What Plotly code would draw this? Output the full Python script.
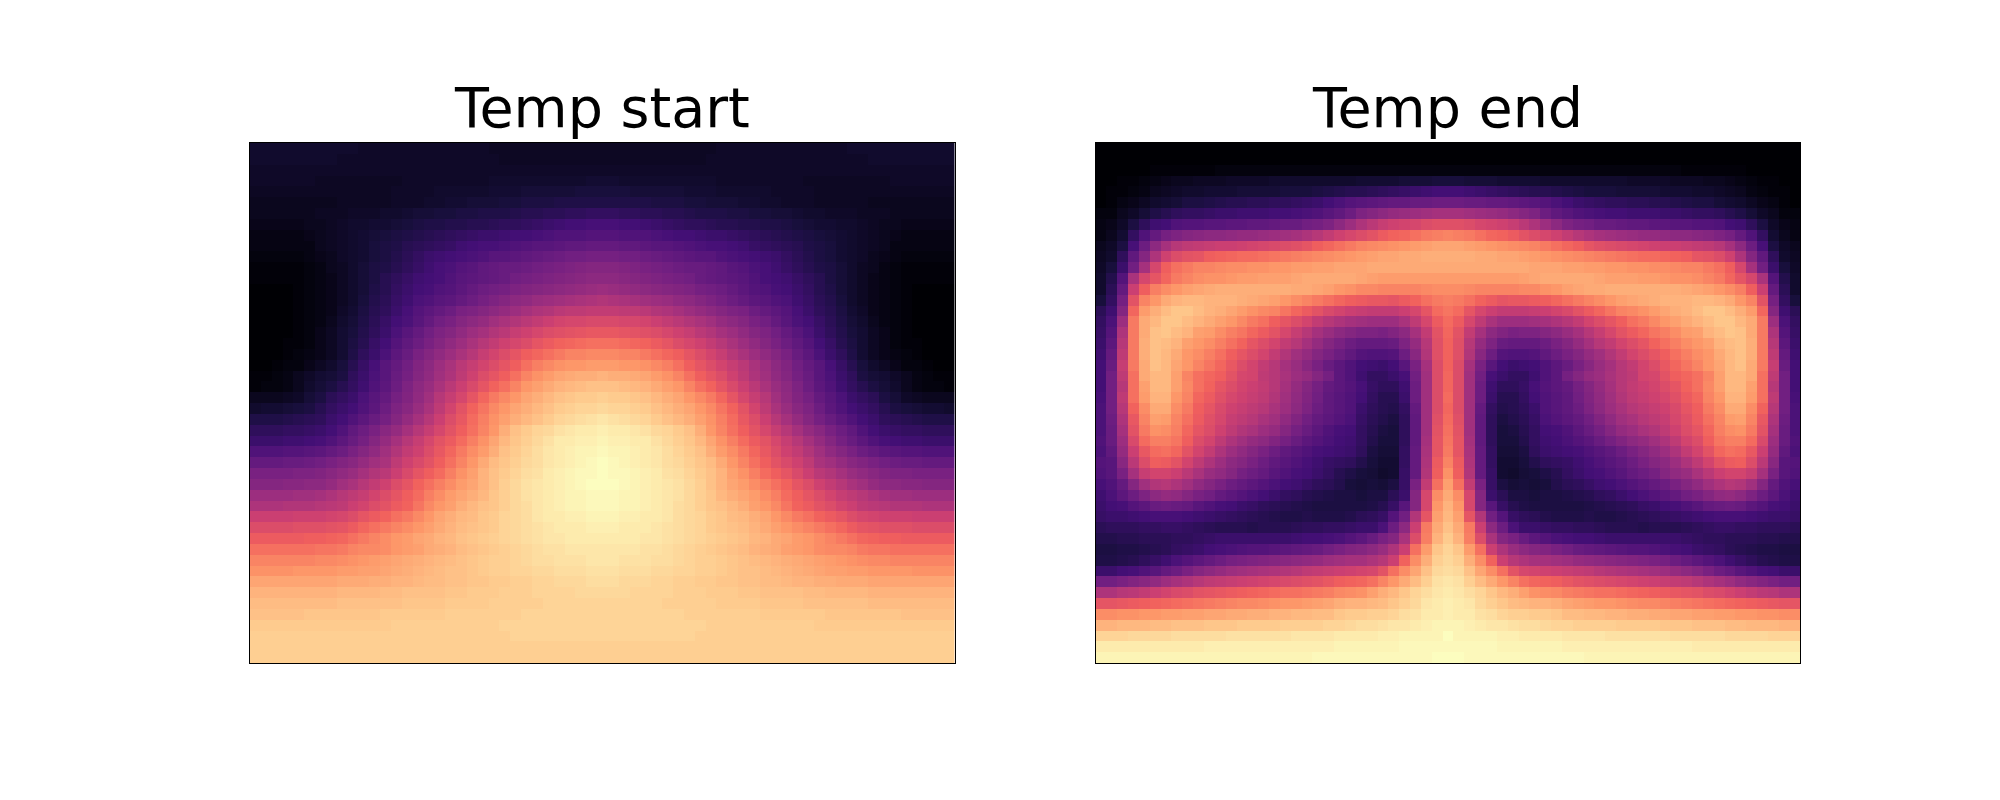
import plotly.graph_objects as go

titles = ["Temp start", "Temp end"]

# Left half of each field (column 0 to the centre column); the pictures are mirror-symmetric.
temp_start_half = [
[8,8,8,8,8,8,8,8,8,8,7,7,7,7,7,7,7,7,7,7,7,7,6,6,6,6,6,6,6,6,6,6,6],
[8,8,8,8,8,8,8,8,7,7,7,7,7,7,7,7,7,7,7,7,7,7,7,6,6,6,6,6,6,6,6,6,6],
[7,7,7,7,7,7,7,7,7,7,7,7,7,7,7,7,7,7,7,7,7,7,7,7,7,7,7,7,7,7,7,7,7],
[7,7,7,7,7,7,6,6,6,6,6,6,6,6,7,7,7,7,7,7,7,7,8,8,8,8,8,8,8,8,8,9,9],
[6,6,6,6,6,6,6,6,6,6,6,6,6,7,7,7,7,8,8,8,8,8,9,9,9,10,10,10,10,10,11,11,11],
[5,5,5,5,5,5,5,5,6,6,6,6,6,7,7,7,8,8,9,9,10,10,10,11,11,12,12,12,13,13,13,13,13],
[5,5,5,5,5,5,6,6,6,7,7,7,8,8,9,10,10,11,11,12,12,13,13,13,14,15,15,16,16,17,17,18,18],
[4,4,4,4,4,5,5,6,7,8,8,9,9,10,11,12,13,13,14,14,15,15,16,17,17,18,19,20,21,22,22,23,23],
[3,3,3,3,3,4,5,6,7,8,9,10,11,12,13,14,15,16,17,18,19,20,20,21,22,22,23,24,25,25,25,26,26],
[3,3,3,3,3,3,5,6,7,8,9,11,12,13,15,16,17,18,19,21,22,23,23,24,25,26,27,27,28,29,29,30,30],
[2,2,2,2,2,3,4,5,7,8,9,11,12,14,16,18,20,21,22,23,24,25,27,27,28,29,30,31,32,33,33,34,34],
[1,1,1,1,1,2,3,5,6,8,10,12,13,15,17,19,21,23,24,26,27,29,30,31,31,32,33,34,35,36,37,38,38],
[1,1,1,1,1,2,3,4,6,8,10,12,15,17,19,21,22,23,25,27,28,29,30,31,33,34,35,36,37,38,39,40,40],
[0,0,0,0,1,2,3,4,6,8,10,13,15,18,20,22,23,25,26,28,30,32,33,34,36,37,38,39,40,41,42,43,44],
[0,0,0,0,1,2,3,4,6,8,11,14,16,19,21,24,25,27,28,30,32,34,36,38,40,41,43,44,45,46,47,48,49],
[0,0,0,0,1,2,3,4,7,9,12,15,17,20,23,26,28,30,32,35,36,38,40,42,44,46,48,49,51,52,52,53,53],
[0,0,0,0,1,2,3,5,8,10,13,16,19,22,24,27,30,33,35,38,40,42,45,47,49,51,53,55,57,58,58,59,59],
[0,0,0,0,1,2,4,6,9,11,14,17,20,24,27,30,33,36,38,41,44,46,49,51,54,56,58,60,61,62,63,64,64],
[0,0,0,1,1,2,4,6,9,12,15,19,22,26,29,32,35,38,41,44,47,50,53,56,58,60,63,65,67,68,69,70,70],
[0,0,0,1,2,3,4,6,9,13,17,20,24,28,31,35,38,41,44,47,50,54,57,60,63,66,68,70,72,74,74,75,75],
[0,0,1,2,2,4,6,8,11,15,19,23,27,30,33,37,40,44,47,51,54,57,60,63,66,70,73,75,77,78,78,79,79],
[1,1,2,3,5,7,9,10,12,17,20,24,27,31,34,38,41,45,48,52,56,60,63,66,70,74,77,79,81,82,83,83,84],
[1,2,2,3,5,8,10,12,15,18,21,25,28,32,36,40,43,47,51,55,59,63,67,70,74,78,80,82,84,85,86,87,87],
[5,5,5,6,7,10,12,16,18,20,24,27,30,34,37,41,45,50,54,58,63,68,72,75,78,81,83,85,87,88,89,89,90],
[8,9,9,10,11,12,15,18,20,22,25,28,32,36,39,43,47,52,57,62,67,71,75,78,81,83,85,87,89,90,91,91,92],
[13,13,13,14,15,16,17,20,22,25,28,31,34,38,42,46,50,55,60,64,69,73,77,80,83,85,87,89,91,92,93,94,95],
[17,17,17,18,18,19,20,22,25,29,32,35,39,42,46,50,54,58,62,66,70,74,78,83,87,89,91,92,94,95,96,96,97],
[20,20,20,21,21,22,23,25,28,31,34,38,42,46,50,54,58,62,65,69,73,77,81,85,88,90,92,94,96,96,97,97,98],
[25,25,25,26,26,27,28,30,32,35,38,41,45,49,53,56,60,64,68,72,76,79,83,87,89,91,93,95,96,97,98,98,99],
[30,30,30,31,31,32,33,35,37,39,42,45,47,52,56,59,62,66,70,74,78,82,86,88,90,92,93,95,96,97,98,99,100],
[35,35,35,35,36,36,37,39,41,43,46,49,51,55,59,63,66,69,73,77,80,84,87,89,91,93,94,96,97,98,99,99,100],
[38,38,38,39,39,40,40,42,45,47,50,53,56,60,63,67,70,73,76,79,81,84,87,90,92,94,95,96,97,98,99,100,100],
[44,44,44,44,45,45,46,48,50,52,54,57,60,63,66,69,73,76,79,81,83,85,88,90,92,94,95,96,97,98,98,99,99],
[48,48,48,49,49,49,50,51,52,55,57,60,62,65,67,71,75,78,80,83,85,87,88,90,92,93,95,96,97,98,98,99,99],
[55,55,55,55,56,56,56,57,58,60,63,65,67,70,72,75,78,81,83,85,86,88,89,91,92,93,95,96,96,97,97,98,98],
[60,60,60,60,61,61,61,62,63,65,68,70,72,74,76,78,80,82,84,86,87,88,89,91,92,93,94,95,96,96,96,97,97],
[65,65,65,65,65,66,66,67,68,70,72,74,76,78,79,81,82,84,85,87,88,89,90,91,92,93,94,95,95,96,96,96,96],
[70,70,70,70,70,70,71,71,72,74,75,75,76,78,79,80,82,83,84,86,87,88,89,90,91,92,93,94,94,95,95,95,95],
[74,74,74,74,74,74,75,75,76,77,78,79,80,81,82,83,84,85,86,87,88,89,90,90,91,92,93,93,94,94,94,95,95],
[77,77,77,77,78,78,78,78,79,79,80,80,81,82,83,84,85,86,87,87,88,89,90,90,91,91,92,92,93,93,93,94,94],
[81,81,81,81,81,81,81,81,82,82,82,83,83,84,84,85,86,86,87,87,88,88,89,89,90,90,91,91,92,92,92,93,93],
[84,84,84,84,84,84,84,84,85,85,85,85,86,86,87,87,87,87,88,88,89,89,89,90,90,90,91,91,91,91,92,92,92],
[86,86,86,86,86,86,86,86,87,87,87,87,87,87,88,88,88,88,89,89,89,89,90,90,90,90,90,91,91,91,91,91,91],
[87,87,87,87,87,88,88,88,88,88,88,88,89,89,89,89,89,89,90,90,90,90,90,90,90,91,91,91,91,91,91,91,91],
[89,89,89,89,89,89,89,89,89,89,89,89,89,90,90,90,90,90,90,90,90,90,90,91,91,91,91,91,91,91,91,91,91],
[90,90,90,90,90,90,90,90,90,90,90,90,90,90,90,90,90,90,90,90,90,90,90,90,91,91,91,91,91,91,91,91,91],
[90,90,90,90,90,90,90,90,90,90,90,90,90,90,90,90,90,90,90,90,90,90,90,90,90,90,90,90,90,90,90,90,90],
[90,90,90,90,90,90,90,90,90,90,90,90,90,90,90,90,90,90,90,90,90,90,90,90,90,90,90,90,90,90,90,90,90],
]

temp_end_half = [
[0,0,0,0,0,0,0,0,0,0,0,0,0,0,0,0,0,0,0,0,0,0,0,0,0,0,0,0,0,0,0,0,0],
[0,0,0,0,0,0,0,0,0,0,0,0,0,0,0,0,0,0,0,0,0,0,0,0,0,0,0,0,0,0,0,0,0],
[0,0,0,0,0,1,1,1,1,1,1,2,2,2,2,2,2,2,2,2,2,2,2,2,2,2,2,2,2,2,2,2,2],
[0,0,1,1,2,3,4,5,5,6,6,6,7,7,7,7,8,8,8,8,8,8,8,8,9,9,9,9,10,10,10,11,11],
[0,1,1,2,3,5,6,7,8,8,9,9,9,10,10,10,10,11,11,11,12,13,14,15,15,16,17,18,19,20,21,22,22],
[0,1,3,4,6,8,9,10,12,12,13,14,15,15,16,16,17,17,18,19,20,22,24,26,27,28,29,30,30,31,31,32,32],
[2,2,5,7,10,13,15,17,18,18,19,20,20,21,21,21,22,22,23,24,25,27,29,32,36,38,40,42,43,44,45,46,46],
[3,4,7,12,17,21,22,25,26,26,27,27,28,28,29,29,30,31,31,33,34,36,40,44,48,51,54,56,57,58,60,61,61],
[3,5,9,18,25,30,34,36,38,39,40,40,41,42,42,43,44,45,46,48,50,53,56,58,60,62,65,67,68,70,72,73,74],
[5,7,12,23,32,40,46,50,52,53,54,55,55,56,57,58,59,60,61,63,66,68,70,72,74,75,76,77,78,79,80,81,81],
[6,8,17,29,38,48,56,60,62,63,66,67,68,69,69,70,71,72,73,74,75,76,77,78,79,80,81,81,82,82,83,83,83],
[7,11,20,33,46,58,66,70,72,74,74,75,76,76,77,77,78,78,79,79,80,80,81,81,81,82,82,82,82,82,82,82,82],
[8,14,26,47,58,63,68,72,74,76,77,77,78,79,79,80,80,80,81,82,82,82,82,82,81,80,79,79,79,79,79,79,79],
[8,16,30,55,66,73,76,78,80,81,82,83,83,83,83,83,83,83,82,82,81,80,78,77,75,75,74,74,74,74,75,76,76],
[11,18,34,62,74,78,82,84,85,85,84,84,84,83,82,81,80,78,76,74,72,70,68,66,65,64,64,63,65,67,70,72,73],
[16,21,38,68,79,83,86,88,88,86,84,83,81,79,77,75,74,71,68,65,62,59,57,55,54,53,53,53,55,58,63,69,71],
[18,24,44,72,82,85,88,88,86,84,82,80,78,75,72,70,66,63,60,57,53,50,48,46,45,44,44,44,47,52,58,65,69],
[19,26,48,72,82,87,88,86,84,80,79,76,73,71,68,65,62,58,54,50,46,43,40,38,36,36,35,37,40,46,53,62,68],
[20,28,50,72,83,87,86,84,80,78,76,73,70,67,63,60,57,53,50,46,42,38,35,32,30,30,30,31,36,42,50,61,67],
[21,30,52,72,83,87,85,82,78,76,73,70,66,63,60,57,53,49,45,42,38,35,32,29,26,25,25,26,32,39,49,61,67],
[22,31,54,72,82,87,85,81,78,74,71,68,64,60,57,53,50,46,43,39,35,31,28,25,22,21,20,22,27,35,46,60,67],
[22,33,52,70,82,85,85,80,74,70,68,66,62,58,57,52,50,47,44,42,38,34,28,25,21,18,18,20,23,33,45,60,68],
[22,33,50,70,80,85,85,80,75,70,67,63,60,57,55,53,50,46,42,38,34,30,28,26,23,19,17,17,21,32,45,60,68],
[23,33,52,70,79,84,84,78,74,68,65,61,58,56,54,52,49,45,41,37,33,29,27,25,22,18,15,15,20,32,45,60,69],
[24,33,50,67,76,82,82,76,72,66,63,59,56,54,52,50,47,44,40,36,32,29,27,25,20,17,15,14,18,30,45,60,68],
[24,32,48,64,74,80,79,74,70,65,61,58,54,52,50,47,45,41,37,33,30,28,26,24,19,16,14,12,17,29,45,61,69],
[24,31,46,62,72,77,76,73,68,63,60,56,52,49,47,44,42,38,34,31,28,25,23,22,18,15,12,11,17,29,45,62,70],
[25,31,44,59,69,73,73,71,66,60,57,52,48,45,42,40,37,34,31,28,26,24,22,21,18,14,11,11,17,29,46,63,71],
[24,29,42,55,64,69,70,68,62,57,53,48,44,41,38,35,32,29,27,25,23,22,21,20,17,12,10,10,18,30,47,63,72],
[26,27,39,51,60,66,65,62,57,52,48,44,40,38,35,32,29,27,25,23,21,19,18,17,14,11,9,9,18,30,48,65,74],
[25,27,35,46,54,57,57,55,51,47,43,41,38,34,32,30,27,25,23,22,20,18,15,13,11,10,8,9,19,30,49,66,77],
[23,25,30,38,45,49,50,48,45,41,38,35,32,30,28,26,24,22,21,19,17,16,14,11,10,11,10,12,19,35,53,70,80],
[21,24,28,32,36,40,42,41,38,35,33,30,28,26,24,22,20,18,17,15,14,13,12,12,11,12,12,16,20,38,58,76,82],
[20,22,23,26,28,31,32,31,30,27,25,23,22,20,19,17,16,15,14,13,12,12,12,12,12,13,15,19,27,38,58,78,84],
[19,20,20,21,22,23,23,23,22,21,20,19,18,17,16,15,14,13,13,14,13,13,13,14,16,17,19,26,33,49,63,80,85],
[16,17,17,17,18,18,19,19,18,17,16,15,15,15,14,15,15,15,16,17,17,18,18,19,20,20,24,32,40,55,72,82,87],
[14,14,15,15,16,16,16,17,17,18,19,20,20,20,20,20,20,20,21,22,22,23,24,26,28,31,35,38,47,60,73,84,89],
[12,12,13,13,14,15,16,18,19,20,22,23,24,25,26,26,27,28,29,30,31,33,35,37,38,40,43,48,55,70,79,88,91],
[13,13,14,15,17,19,21,24,26,28,30,32,34,35,36,37,38,39,40,41,42,44,45,46,46,48,50,55,67,76,83,90,92],
[20,20,22,23,25,27,30,32,35,38,40,42,44,45,46,47,48,49,50,52,53,54,55,56,57,58,62,70,76,81,87,92,93],
[33,33,35,37,39,41,44,46,48,50,52,53,54,55,56,57,58,59,60,61,62,64,66,67,68,70,74,78,82,86,90,94,95],
[48,48,50,51,53,55,57,59,60,62,63,64,65,66,67,68,69,70,70,71,72,73,75,76,77,80,83,85,88,91,93,95,96],
[63,63,64,65,66,67,68,69,70,71,72,73,74,75,75,76,77,78,78,79,80,81,83,84,84,85,86,88,90,92,95,96,97],
[76,76,77,77,78,78,79,79,80,80,81,81,82,82,83,83,84,84,85,85,86,86,88,89,89,90,90,91,93,94,96,96,97],
[84,84,85,85,85,86,86,87,87,87,88,88,88,89,89,89,89,90,90,90,90,91,91,92,93,93,94,95,95,96,97,98,98],
[91,91,91,92,92,92,92,93,93,93,93,93,94,94,94,94,94,94,95,95,95,95,96,96,96,96,97,97,98,98,98,98,100],
[96,96,96,96,96,96,96,96,96,96,97,97,97,97,97,97,97,97,97,97,97,97,98,98,98,98,98,98,99,99,99,99,99],
[98,98,98,98,98,98,98,98,98,98,98,98,98,98,98,98,98,98,98,98,99,99,99,99,99,99,99,99,99,99,99,100,100],
]

for name, half in (("start", temp_start_half), ("end", temp_end_half)):
    bad = [(i, len(r)) for i, r in enumerate(half) if len(r) != 33]
    if bad or len(half) != 48:
        raise SystemExit(f"{name}: rows={len(half)} bad={bad}")


def full_field(half):
    return [[v / 100 for v in row + row[-2::-1]] for row in half]


W, H = 2000, 800
panels = [(250.0, 954.5), (1095.5, 1800.0)]
top, bottom = 143.0, 663.0

fig = go.Figure()
layout = dict(
    width=W, height=H, margin=dict(l=0, r=0, t=0, b=0),
    paper_bgcolor="white", plot_bgcolor="white", annotations=[],
)

for i, (field, title, (x0, x1)) in enumerate(zip((temp_start_half, temp_end_half), titles, panels), start=1):
    suffix = "" if i == 1 else str(i)
    fig.add_trace(go.Heatmap(
        z=full_field(field), colorscale="Magma", zmin=0, zmax=1,
        showscale=False, hoverinfo="skip", xaxis=f"x{suffix}", yaxis=f"y{suffix}",
    ))
    axis = dict(showticklabels=False, ticks="", showgrid=False, zeroline=False,
                showline=True, mirror=True, linecolor="black", linewidth=1)
    layout[f"xaxis{suffix}"] = dict(axis, domain=[x0 / W, x1 / W], range=[-0.5, 64.5],
                                    anchor=f"y{suffix}")
    layout[f"yaxis{suffix}"] = dict(axis, domain=[1 - bottom / H, 1 - top / H], range=[47.5, -0.5],
                                    anchor=f"x{suffix}")
    layout["annotations"].append(dict(
        text=title, xref="paper", yref="paper", x=(x0 + x1) / 2 / W, y=1 - 142 / H,
        xanchor="center", yanchor="bottom", showarrow=False,
        font=dict(family="DejaVu Sans", size=55.5, color="black"),
    ))

fig.update_layout(**layout)
fig.write_html("out.html", config={"displayModeBar": False},
               post_script="document.body.style.margin='0';")
